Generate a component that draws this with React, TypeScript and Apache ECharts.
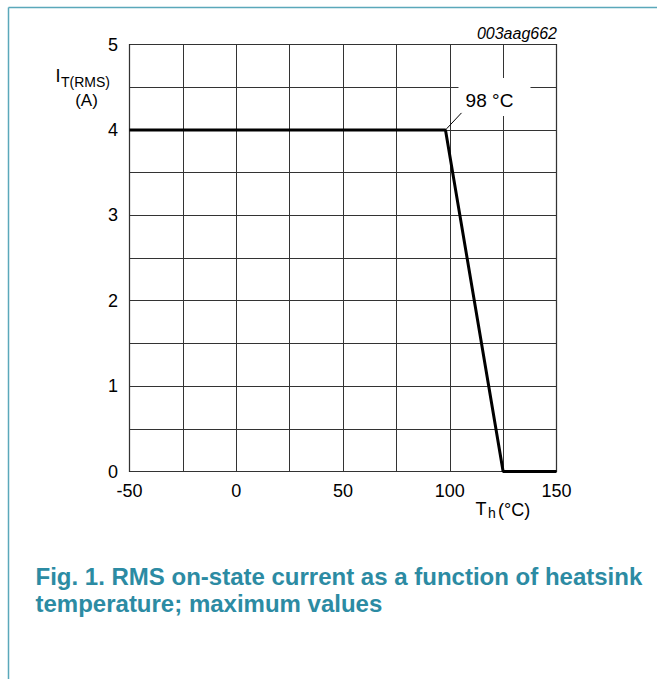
import React, { useEffect, useRef } from "react";
import * as echarts from "echarts";

const temps = [-50, 98, 125, 150];
const currents = [4, 4, 0, 0];
const xLabelStep = 50;
const xMin = -50;
const xMax = 150;
const yMin = 0;
const yMax = 5;
const figId = "003aag662";
const captionLines = [
  "Fig. 1. RMS on-state current as a function of heatsink",
  "temperature; maximum values",
];

export default function App() {
  const ref = useRef<HTMLDivElement>(null);
  useEffect(() => {
    document.body.style.margin = "0";
    const chart = echarts.init(ref.current!, null, { renderer: "svg" });
    const font = "'Liberation Sans', Arial, sans-serif";
    const teal = "#2c8ba3";
    chart.setOption({
      animation: false,
      grid: {
        left: 129.5,
        top: 44.5,
        width: 427,
        height: 427,
        show: true,
        borderColor: "#000",
        borderWidth: 1.2,
      },
      xAxis: {
        type: "value",
        min: xMin,
        max: xMax,
        interval: 25,
        axisLine: { show: false },
        axisTick: { show: false },
        splitLine: { show: true, lineStyle: { color: "#333", width: 1 } },
        axisLabel: {
          formatter: (v: number) => (v % xLabelStep === 0 ? String(v) : ""),
          fontSize: 18,
          color: "#000",
          margin: 10,
          fontFamily: font,
        },
      },
      yAxis: {
        type: "value",
        min: yMin,
        max: yMax,
        interval: 0.5,
        axisLine: { show: false },
        axisTick: { show: false },
        splitLine: { show: true, lineStyle: { color: "#333", width: 1 } },
        axisLabel: {
          formatter: (v: number) => (Number.isInteger(v) ? String(v) : ""),
          fontSize: 18,
          color: "#000",
          margin: 11.5,
          fontFamily: font,
        },
      },
      series: [
        {
          type: "line",
          data: temps.map((t, i) => [t, currents[i]]),
          showSymbol: false,
          symbol: "none",
          lineStyle: { color: "#000", width: 3 },
        },
      ],
    });
    const p = chart.convertToPixel({ gridIndex: 0 }, [temps[1], currents[1]]) as number[];
    chart.setOption({
      graphic: [
        { type: "line", shape: { x1: 8.5, y1: 7.5, x2: 657, y2: 7.5 }, style: { stroke: "#5aa8ba", lineWidth: 1.5 } },
        { type: "line", shape: { x1: 8.5, y1: 7.5, x2: 8.5, y2: 679 }, style: { stroke: "#5aa8ba", lineWidth: 1.5 } },
        {
          type: "text",
          x: 557,
          y: 33,
          style: { text: figId, fontSize: 16, fontStyle: "italic", fontFamily: font, fill: "#000", align: "right", verticalAlign: "middle" },
        },
        { type: "text", x: 55.5, y: 76, style: { text: "I", fontSize: 18, fontFamily: font, fill: "#000", verticalAlign: "middle" } },
        { type: "text", x: 61, y: 82, style: { text: "T(RMS)", fontSize: 14, fontFamily: font, fill: "#000", verticalAlign: "middle" } },
        { type: "text", x: 86.5, y: 100, style: { text: "(A)", fontSize: 17, fontFamily: font, fill: "#000", align: "center", verticalAlign: "middle" } },
        { type: "text", x: 475.5, y: 509, style: { text: "T", fontSize: 18, fontFamily: font, fill: "#000", verticalAlign: "middle" } },
        { type: "text", x: 488, y: 513, style: { text: "h", fontSize: 14, fontFamily: font, fill: "#000", verticalAlign: "middle" } },
        { type: "text", x: 498, y: 510, style: { text: "(°C)", fontSize: 18, fontFamily: font, fill: "#000", verticalAlign: "middle" } },
        { type: "rect", shape: { x: p[0] + 13, y: p[1] - 52, width: 72, height: 38 }, style: { fill: "#fff" }, z: 10 },
        { type: "line", shape: { x1: p[0] + 1, y1: p[1] - 1, x2: p[0] + 16, y2: p[1] - 17 }, style: { stroke: "#000", lineWidth: 1 }, z: 11 },
        {
          type: "text",
          x: p[0] + 44,
          y: p[1] - 29,
          z: 11,
          style: { text: `${temps[1]} °C`, fontSize: 19, fontFamily: font, fill: "#000", align: "center", verticalAlign: "middle" },
        },
        ...captionLines.map((line, i) => ({
          type: "text",
          x: 35.5,
          y: 576 + i * 27,
          style: { text: line, fontSize: 24, fontWeight: "bold", fontFamily: font, fill: teal, verticalAlign: "middle" },
        })),
      ],
    });
    return () => chart.dispose();
  }, []);
  return <div ref={ref} style={{ width: 657, height: 679 }} />;
}
